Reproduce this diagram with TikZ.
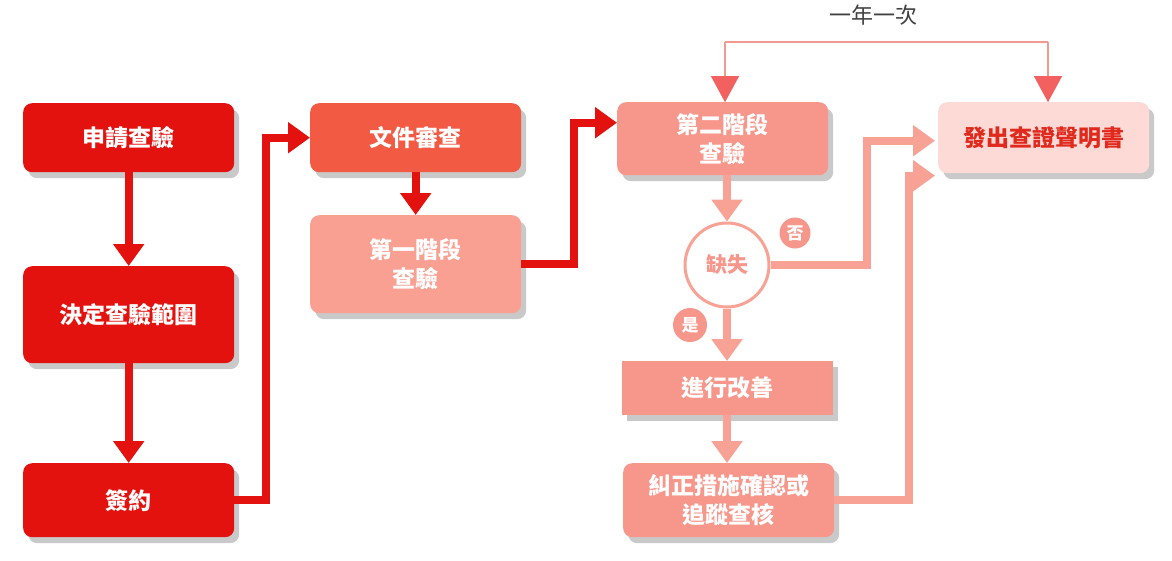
\documentclass[tikz,border=0pt]{standalone}
\usepackage{fontspec}
\setmainfont{Noto Sans CJK TC}
\usetikzlibrary{arrows.meta,shadows,calc}
\definecolor{cRed}{HTML}{E3120E}
\definecolor{cOrg}{HTML}{F25A44}
\definecolor{cPink}{HTML}{F9A093}
\definecolor{cSalm}{HTML}{F7968A}
\definecolor{cLine}{HTML}{F8A295}
\definecolor{cPale}{HTML}{FDDAD6}
\definecolor{cPaleT}{HTML}{E02A1E}
\definecolor{cHead}{HTML}{F26060}
\definecolor{cThin}{HTML}{F29A90}
\begin{document}
\begin{tikzpicture}[x=1pt,y=-1pt,
  box/.style={rounded corners=9pt, minimum width=211pt, text=white,
    font=\fontsize{23}{29}\selectfont\bfseries, align=center, inner sep=0pt,
    anchor=north west,
    drop shadow={shadow xshift=5pt,shadow yshift=-6pt,opacity=0.3,fill=black!70}},
  sqbox/.style={box, rounded corners=0pt},
  bigarrow/.style={line width=8pt, -{Triangle[width=30pt,length=22pt]}},
  thinarrow/.style={line width=2pt, -{Triangle[width=28pt,length=26pt]}},
  tag/.style={circle, fill=cSalm, inner sep=0pt, text=white,
    font=\fontsize{17}{19}\selectfont\bfseries}]
\useasboundingbox (0,0) rectangle (1172,560);

% left column
\node[box, fill=cRed, minimum height=69pt] (apply) at (23,103) {申請查驗};
\node[box, fill=cRed, minimum height=97pt] (scope) at (23,266) {決定查驗範圍};
\node[box, fill=cRed, minimum height=74pt] (sign) at (23,463) {簽約};

% middle column
\node[box, fill=cOrg, minimum height=69pt] (doc) at (310,103) {文件審查};
\node[box, fill=cPink, minimum height=98pt] (st1) at (310,215) {第一階段\\查驗};

% right column
\node[box, fill=cSalm, minimum height=73pt] (st2) at (617,102) {第二階段\\查驗};
\node[circle, draw=cLine, line width=3pt, fill=white, minimum size=84pt,
  text=cSalm, font=\fontsize{21}{24}\selectfont\bfseries] (def) at (727,265) {缺失};
\node[tag, minimum size=31pt] (no) at (795,233) {否};
\node[tag, minimum size=34pt] (yes) at (690,325) {是};
\node[sqbox, fill=cSalm, minimum height=54pt] (imp) at (622,361) {進行改善};
\node[box, fill=cSalm, minimum height=74pt] (corr) at (623,463) {糾正措施確認或\\追蹤查核};
\node[box, fill=cPale, text=cPaleT, minimum height=71pt] (cert) at (938,102) {發出查證聲明書};

% label on top
\node[text=black!75, font=\fontsize{22}{24}\selectfont] (year) at (873,15) {一年一次};

% connectors
\draw[bigarrow, cRed] (apply.south) -- (scope.north);
\draw[bigarrow, cRed] (scope.south) -- (sign.north);
\draw[bigarrow, cRed] (sign.east) -- ++(32,0) |- (doc.west);
\draw[bigarrow, cRed] (doc.south) -- (st1.north);
\draw[bigarrow, cRed] (st1.east) -- ++(53,0) |- ($(st2.west)+(0,-16)$);

\draw[bigarrow, cLine] (def.north |- st2.south) -- (def.north);
\draw[bigarrow, cLine] (def.east) -- ++(96,0) |- ($(cert.west)+(-3,3)$);
\draw[bigarrow, cLine] (def.south) -- (def.south |- imp.north);
\draw[bigarrow, cLine] (imp.south -| def) -- (corr.north -| def);
\draw[bigarrow, cLine] (corr.east) -- ++(75,0) |- ($(cert.west)+(-3,38)$);

% yearly loop
\coordinate (tl) at (725,42);
\coordinate (tr) at (1048,42);
\draw[line width=2pt, cThin] (tl) -- (tr);
\draw[thinarrow, cThin] (tl) -- (st2.north -| tl);
\draw[thinarrow, cThin] (tr) -- (cert.north -| tr);
\fill[cHead] ($(st2.north -| tl)+(-14,-26)$) -- ($(st2.north -| tl)+(14,-26)$) -- (st2.north -| tl) -- cycle;
\fill[cHead] ($(cert.north -| tr)+(-14,-26)$) -- ($(cert.north -| tr)+(14,-26)$) -- (cert.north -| tr) -- cycle;
\end{tikzpicture}
\end{document}
